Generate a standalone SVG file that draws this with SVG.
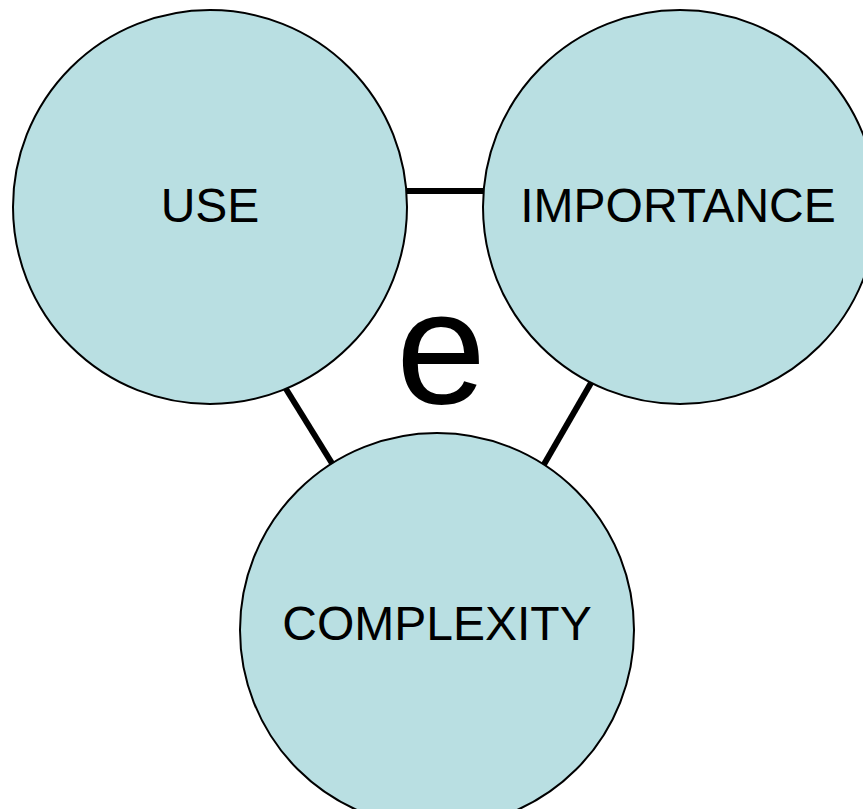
<svg xmlns="http://www.w3.org/2000/svg" width="863" height="809" viewBox="0 0 863 809">
  <style>
    .link { stroke: #000; stroke-width: 6; stroke-linecap: butt; fill: none; }
    .node circle { fill: #B9DFE2; stroke: #000; stroke-width: 2; }
    .node text { font-family: "Liberation Sans", Arial, sans-serif; font-size: 48px; fill: #000; text-anchor: middle; }
    .center { font-family: "Liberation Sans", Arial, sans-serif; font-size: 162px; fill: #000; text-anchor: middle; }
  </style>
  <rect width="863" height="809" fill="#fff"/>
  <!-- connectors between the three circles -->
  <g id="connectors">
    <line class="link" x1="395" y1="191" x2="495" y2="191"/>
    <line class="link" x1="278" y1="376" x2="338" y2="473"/>
    <line class="link" x1="595" y1="376" x2="539" y2="473"/>
  </g>
  <g id="use" class="node">
    <circle cx="210" cy="207" r="197"/>
    <text x="210" y="222">USE</text>
  </g>
  <g id="importance" class="node">
    <circle cx="680" cy="207" r="197"/>
    <text x="678" y="222">IMPORTANCE</text>
  </g>
  <g id="complexity" class="node">
    <circle cx="437" cy="630" r="197"/>
    <text x="437" y="640">COMPLEXITY</text>
  </g>
  <text class="center" x="441" y="403">e</text>
</svg>
